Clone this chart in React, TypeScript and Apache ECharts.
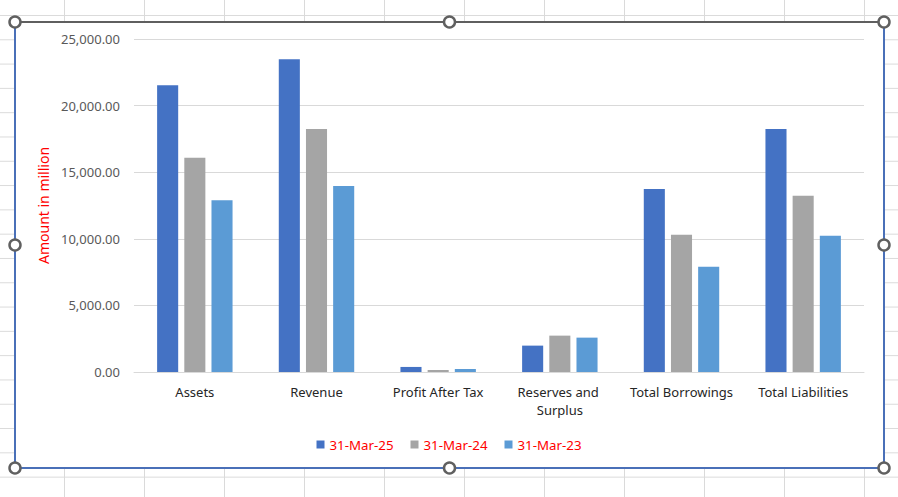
import React, { useEffect, useRef } from "react";
import * as echarts from "echarts";

const categories = ["Assets", "Revenue", "Profit After Tax", "Reserves and Surplus", "Total Borrowings", "Total Liabilities"];
const seriesNames = ["31-Mar-25", "31-Mar-24", "31-Mar-23"];
const mar25 = [21520, 23480, 380, 1980, 13740, 18250];
const mar24 = [16080, 18250, 150, 2730, 10300, 13230];
const mar23 = [12900, 13970, 225, 2580, 7900, 10230];
const colors = ["#4472C4", "#A5A5A5", "#5B9BD5"];

const fmt = (v: number) =>
  v.toFixed(2).replace(/\B(?=(\d{3})+(?!\d))/g, ",");

export default function App() {
  const ref = useRef<HTMLDivElement>(null);
  useEffect(() => {
    if (!ref.current) return;
    const chart = echarts.init(ref.current, undefined, { renderer: "svg" });
    const font = "'Noto Sans', 'Open Sans', sans-serif";
    const handle = (x: number, y: number) => ({
      type: "circle",
      shape: { cx: x, cy: y, r: 5.5 },
      style: { fill: "#fff", stroke: "#606060", lineWidth: 2.5 },
      z: 100,
    });
    const data = [mar25, mar24, mar23];
    chart.setOption({
      animation: false,
      backgroundColor: "transparent",
      textStyle: { fontFamily: font },
      color: colors,
      grid: { left: 134, right: 34, top: 39, bottom: 125, containLabel: false },
      legend: {
        bottom: 41,
        left: "center",
        itemWidth: 8,
        itemHeight: 8,
        itemGap: 17,
        icon: "rect",
        textStyle: { color: "#FF0000", fontSize: 13.3, fontFamily: font },
        data: seriesNames,
      },
      xAxis: {
        type: "category",
        data: categories,
        axisLine: { lineStyle: { color: "#d9d9d9", width: 1 } },
        axisTick: { show: false },
        axisLabel: {
          interval: 0,
          color: "#262626",
          fontSize: 13,
          margin: 11,
          width: 112,
          overflow: "break",
          lineHeight: 18,
          fontFamily: font,
        },
      },
      yAxis: {
        type: "value",
        min: 0,
        max: 25000,
        interval: 5000,
        name: "Amount in million",
        nameLocation: "middle",
        nameGap: 80,
        nameTextStyle: { color: "#FF0000", fontSize: 14, fontFamily: font },
        axisLine: { show: false },
        axisTick: { show: false },
        axisLabel: { color: "#595959", fontSize: 13, margin: 14, formatter: (v: number) => fmt(v), fontFamily: font },
        splitLine: { lineStyle: { color: "#d9d9d9", width: 1 } },
      },
      series: seriesNames.map((n, i) => ({
        name: n,
        type: "bar",
        data: data[i],
        barGap: "29%",
        barCategoryGap: "38%",
        itemStyle: { color: colors[i] },
      })),
      graphic: [
        handle(15, 22),
        handle(449.5, 22),
        handle(884, 22),
        handle(15, 245),
        handle(884, 245),
        handle(15, 468),
        handle(449.5, 468),
        handle(884, 468),
      ],
    });
    return () => chart.dispose();
  }, []);

  return (
    <div
      style={{
        position: "fixed",
        left: 0,
        top: 0,
        width: 898,
        height: 497,
        backgroundColor: "#fff",
        backgroundImage:
          "linear-gradient(to right, #dadada 1px, transparent 1px), linear-gradient(to bottom, #dadada 1px, transparent 1px)",
        backgroundSize: "80px 24.3px",
        backgroundPosition: "64px 15px",
        overflow: "hidden",
      }}
    >
      <div
        style={{
          position: "absolute",
          left: 14,
          top: 21,
          width: 871,
          height: 448,
          boxSizing: "border-box",
          background: "#fff",
          borderTop: "2px solid #5f5f5f",
          borderLeft: "2px solid #4a70b8",
          borderRight: "2px solid #4a70b8",
          borderBottom: "2px solid #4a70b8",
        }}
      />
      <div ref={ref} style={{ position: "absolute", left: 0, top: 0, width: 898, height: 497 }} />
    </div>
  );
}
